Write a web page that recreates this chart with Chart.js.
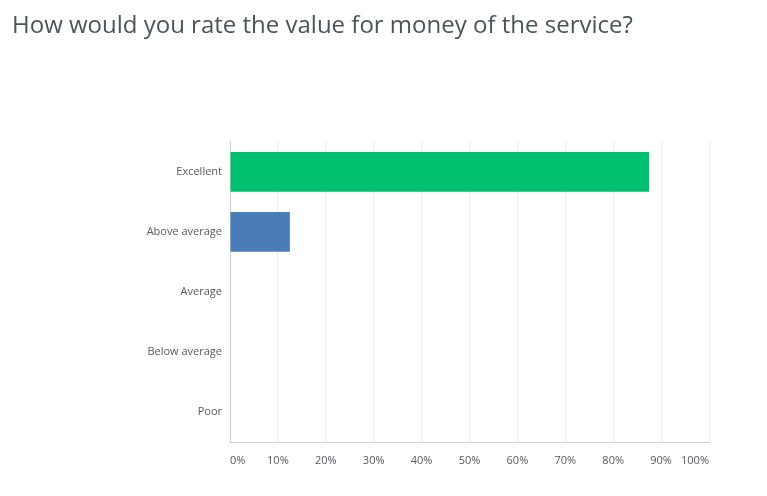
<!DOCTYPE html>
<html>
<head>
<meta charset="utf-8">
<script src="https://cdn.jsdelivr.net/npm/chart.js@4"></script>
<style>
  html, body { margin: 0; padding: 0; background: #fff; }
  #wrap { width: 767px; height: 496px; }
</style>
</head>
<body>
<div id="wrap"><canvas id="valueChart"></canvas></div>
<script>
// answer choices and share of respondents (%)
const categories = ['Excellent', 'Above average', 'Average', 'Below average', 'Poor'];
const percents = [87.5, 12.5, 0, 0, 0];
const barColors = ['#00bf6f', '#4a7cb9', '#4a7cb9', '#4a7cb9', '#4a7cb9'];
const tickStep = 10;

window.onload = function chart() {
    'use strict'

    const ctx = document.getElementById('valueChart')
    // eslint-disable-next-line no-unused-vars
    const myChart = new Chart(ctx, {
        type: 'bar',
        data: {
            labels: categories,
            datasets: [{
                data: percents,
                backgroundColor: barColors,
                borderWidth: 0,
                barPercentage: 0.66,
                categoryPercentage: 1.0
            }]
        },
        options: {
            indexAxis: 'y',
            responsive: true,
            maintainAspectRatio: false,
            animation: false,
            layout: {
                padding: {top: 0, left: 12, right: 58, bottom: 0}
            },
            plugins: {
                legend: {display: false},
                tooltip: {enabled: false},
                title: {
                    display: true,
                    text: 'How would you rate the value for money of the service?',
                    align: 'start',
                    color: '#4b5559',
                    font: {family: 'Open Sans', size: 24, weight: 'normal', lineHeight: 1.2},
                    padding: {top: 12, bottom: 101}
                }
            },
            scales: {
                x: {
                    min: 0,
                    max: 100,
                    ticks: {
                        stepSize: tickStep,
                        align: 'inner',
                        padding: 12,
                        color: '#555a5e',
                        font: {family: 'Open Sans', size: 11},
                        callback: function (v) { return v + '%' }
                    },
                    grid: {color: '#ececec', drawTicks: false},
                    border: {display: true, color: '#cfcfcf'},
                    afterFit: function (scale) { scale.height = 54 }
                },
                y: {
                    ticks: {
                        padding: 8,
                        color: '#555a5e',
                        font: {family: 'Open Sans', size: 11}
                    },
                    grid: {display: false, drawTicks: false},
                    border: {display: true, color: '#cfcfcf'},
                    afterFit: function (scale) { scale.width = 218 }
                }
            }
        }
    })
}
</script>
</body>
</html>
